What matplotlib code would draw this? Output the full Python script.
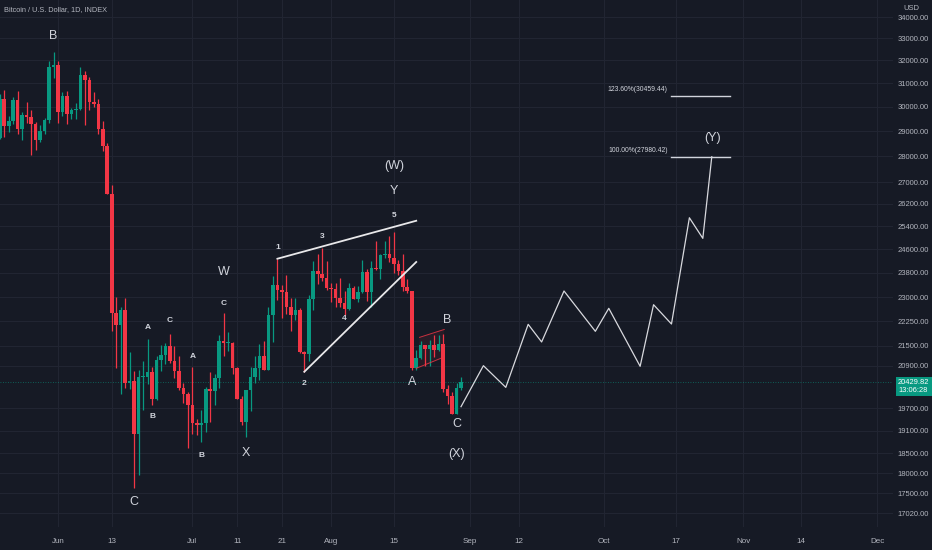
import numpy as np
import pandas as pd
import matplotlib
matplotlib.use('Agg')
import matplotlib.pyplot as plt
import matplotlib.dates as mdates
from matplotlib.ticker import FixedLocator, NullLocator, FuncFormatter
import matplotlib.transforms as mtransforms

plt.rcParams['font.family'] = ['Liberation Sans', 'DejaVu Sans']

# daily candles, BTC index, 2022-05-19 .. 2022-08-30
dates = pd.date_range('2022-05-19', '2022-08-30', freq='D')
open_ = [28710, 30310, 29200, 29430, 30300, 29100, 29650, 29560, 29270, 28630, 29020, 29450, 31720,
         31790, 29800, 30460, 29700, 29860, 29910, 31370, 31130, 30200, 30110, 29090, 28420, 26570, 22490,
         22140, 22580, 20400, 20470, 19000, 20570, 20570, 20720, 19970, 21080, 21230, 21500, 21040, 20740,
         20280, 20100,
         19780, 19300, 19240, 19300, 20230, 20190, 20550, 21630, 21590, 21590, 20850, 19960, 19320, 20220,
         20580, 20830, 21190, 20780, 22430, 23390, 23230, 23160, 22680, 22450, 22580, 21310, 21250, 22950,
         23850, 23770, 23640,
         23300, 23270, 22980, 22820, 22620, 23310, 22960, 23180, 23810, 23160, 23950, 23940, 24400, 24440,
         24300, 24100, 23850, 23340, 23190, 20830, 21140, 21520, 21400, 21530, 21370, 21560, 20240, 20040,
         19550, 20280]
high = [30540, 30720, 29600, 30430, 30650, 29800, 30200, 29850, 29380, 29240, 29540, 31990, 32380,
        31960, 30620, 30660, 29940, 30140, 31730, 31530, 31290, 30630, 30330, 29420, 28540, 26880, 23000,
        22700, 22980, 21300, 20760, 20790, 21050, 21700, 20860, 21190, 21520, 21580, 21860, 21480, 21190,
        20400, 20150,
        20870, 19400, 19650, 20300, 20730, 20660, 21830, 22500, 21920, 21600, 20860, 20040, 20220, 20860,
        21180, 21560, 21650, 22680, 23700, 24270, 23410, 23740, 22990, 22990, 22650, 21350, 23070, 24180,
        24440, 24650, 24180,
        23460, 23450, 23640, 23200, 23450, 23350, 23380, 24220, 23920, 24210, 24880, 24440, 24880, 25050,
        25200, 24230, 24430, 23580, 23200, 21370, 21650, 21530, 21660, 21810, 21810, 21860, 20340, 20140,
        20400, 20570]
low = [28690, 28760, 28950, 29270, 28900, 28650, 29330, 28050, 28260, 28550, 28880, 29320, 31230,
       29330, 29600, 29300, 29500, 29500, 29880, 29230, 29880, 29980, 28900, 28200, 26560, 21950, 20850,
       20110, 20260, 20240, 17620, 17960, 19650, 20370, 19790, 19920, 20750, 20960, 20990, 20550, 20200,
       19850, 18630,
       19000, 18980, 18790, 19070, 19320, 19790, 20260, 21200, 21350, 20670, 19950, 19240, 18930, 19640,
       20420, 20490, 20780, 20770, 21600, 22920, 22360, 22460, 21950, 22290, 21270, 20730, 21050, 22600,
       23430, 23520, 23240,
       22860, 22700, 22700, 22430, 22590, 22950, 22860, 23150, 22880, 22700, 23900, 23610, 24310, 24160,
       23800, 23720, 23190, 23140, 20790, 20790, 21110, 20900, 20900, 21150, 21330, 20140, 19830, 19550,
       19550, 20200]
close = [30310, 29200, 29430, 30300, 29100, 29650, 29560, 29270, 28630, 29020, 29450, 31720, 31790,
         29800, 30460, 29700, 29860, 29910, 31370, 31130, 30200, 30110, 29090, 28420, 26570, 22490, 22140,
         22580, 20400, 20470, 19000, 20570, 20570, 20720, 19970, 21080, 21230, 21500, 21040, 20740, 20280,
         20100, 19780,
         19300, 19240, 19300, 20230, 20190, 20550, 21630, 21590, 21590, 20850, 19960, 19320, 20220, 20580,
         20830, 21190, 20780, 22430, 23390, 23230, 23160, 22680, 22450, 22580, 21310, 21250, 22950, 23850,
         23770, 23640, 23300,
         23270, 22980, 22820, 22620, 23310, 22960, 23180, 23810, 23160, 23950, 23940, 24400, 24440, 24300,
         24100, 23850, 23340, 23190, 20830, 21140, 21520, 21400, 21530, 21370, 21560, 20240, 20040, 19550,
         20280, 20429.82]

last_price = 20429.82
countdown = '13:06:28'

price_ticks = [34000, 33000, 32000, 31000, 30000, 29000, 28000, 27000, 26200, 25400, 24600, 23800,
               23000, 22250, 21500, 20900, 19700, 19100, 18500, 18000, 17500, 17020]
date_ticks = ['2022-06-01', '2022-06-13', '2022-07-01', '2022-07-11', '2022-07-21', '2022-08-01',
              '2022-08-15', '2022-09-01', '2022-09-12', '2022-10-01', '2022-10-17', '2022-11-01',
              '2022-11-14', '2022-12-01']
date_labels = ['Jun', '13', 'Jul', '11', '21', 'Aug', '15', 'Sep', '12', 'Oct', '17', 'Nov', '14', 'Dec']

# wedge (ending diagonal)
wedge_top_dates = ['2022-07-20', '2022-08-20']
wedge_top_prices = [24270, 25590]
wedge_bot_dates = ['2022-07-26', '2022-08-20']
wedge_bot_prices = [20730, 24160]

# small flag after A
flag_dates = ['2022-08-20 18:00', '2022-08-26 06:00', '2022-08-26 00:00', '2022-08-20 00:00']
flag_prices = [21750, 21990, 21150, 20830]

# projected path to (Y)
path_dates = ['2022-08-30', '2022-09-04', '2022-09-09', '2022-09-14', '2022-09-17', '2022-09-22',
              '2022-09-29', '2022-10-02', '2022-10-09', '2022-10-12', '2022-10-16', '2022-10-20',
              '2022-10-23', '2022-10-25']
path_prices = [19745, 20907, 20284, 22148, 21610, 23202, 21934, 22648, 20889, 22763, 22158, 25697,
               24970, 27980]

# fib extension levels
fib_dates = ['2022-10-16', '2022-10-29']
fib_levels = [30459.44, 27980.42]
fib_pcts = ['123.60%', '100.00%']

# wave labels
big_text = ['B', 'C', 'W', 'X', 'Y', '(W)', 'A', 'B', 'C', '(X)', '(Y)']
big_dates = ['2022-05-31', '2022-06-18', '2022-07-08', '2022-07-13', '2022-08-15', '2022-08-15',
             '2022-08-19 03:00', '2022-08-27', '2022-08-29', '2022-08-29', '2022-10-25 05:00']
big_prices = [33125, 17279, 23834, 18503, 26686, 27632, 20444, 22281, 19264, 18476, 28733]
small_text = ['A', 'C', 'B', 'A', 'B', 'C', '1', '2', '3', '4', '5']
small_dates = ['2022-06-21', '2022-06-26', '2022-06-22', '2022-07-01', '2022-07-03', '2022-07-08',
               '2022-07-20', '2022-07-26', '2022-07-30', '2022-08-04', '2022-08-15']
small_prices = [22047, 22274, 19483, 21171, 18458, 22808, 24647, 20407, 25041, 22321, 25782]

bg = '#161a25'
up_col = '#089981'
dn_col = '#f23645'
txt_col = '#b2b5be'
lab_col = '#d1d4dc'
grid_col = '#222633'

fig = plt.figure(figsize=(9.32, 5.5), dpi=100, facecolor=bg)
ax = fig.add_axes([0, 23 / 550, 893 / 932, 527 / 550])
ax.set_facecolor(bg)
ax.set_yscale('log')

x = mdates.date2num(dates)
o = np.array(open_, float)
h = np.array(high, float)
l = np.array(low, float)
c = np.array(close, float)
cols = np.where(c >= o, up_col, dn_col)
ax.vlines(x, l, h, colors=cols, lw=0.9, zorder=3)
body_lo = np.minimum(o, c)
body_h = np.maximum(np.abs(c - o), 25)
ax.bar(x, body_h, bottom=body_lo, width=0.8, color=cols, lw=0, zorder=4)

# current price line
ax.axhline(last_price, color=up_col, lw=0.6, ls=(0, (1, 2)), alpha=0.7, zorder=2)

# drawings
ax.plot(mdates.date2num(pd.to_datetime(wedge_top_dates)), wedge_top_prices, color='#e8e8ea', lw=1.3, zorder=5)
ax.plot(mdates.date2num(pd.to_datetime(wedge_bot_dates)), wedge_bot_prices, color='#e8e8ea', lw=1.3, zorder=5)
fx = mdates.date2num(pd.to_datetime(flag_dates))
ax.fill(fx, flag_prices, facecolor=dn_col, alpha=0.08, edgecolor='none', zorder=2)
ax.plot([fx[0], fx[1]], [flag_prices[0], flag_prices[1]], color=dn_col, lw=0.7, alpha=0.8, zorder=5)
ax.plot([fx[3], fx[2]], [flag_prices[3], flag_prices[2]], color=dn_col, lw=0.7, alpha=0.8, zorder=5)
ax.plot(mdates.date2num(pd.to_datetime(path_dates)), path_prices, color='#d8d9de', lw=0.9, zorder=5)

fd = mdates.date2num(pd.to_datetime(fib_dates))
for lev, pct in zip(fib_levels, fib_pcts):
    ax.plot(fd, [lev, lev], color='#d1d4dc', lw=1.0, zorder=5)
    ax.annotate('%s(%.2f)' % (pct, lev), xy=(fd[0], lev), xytext=(-4, 6), textcoords='offset pixels',
                ha='right', va='center', color=lab_col, fontsize=4.9)

for t, d, p in zip(big_text, big_dates, big_prices):
    ax.text(mdates.date2num(pd.Timestamp(d)), p, t, ha='center', va='center', color=lab_col,
            fontsize=9, zorder=6)
for t, d, p in zip(small_text, small_dates, small_prices):
    ax.text(mdates.date2num(pd.Timestamp(d)), p, t, ha='center', va='center', color=lab_col,
            fontsize=6, fontweight='bold', zorder=6)

# axes
base = mdates.date2num(pd.Timestamp('2022-06-01'))
ax.set_xlim(base - 12.95, base + 186.47)
ax.set_ylim(16695, 34816)

ax.yaxis.tick_right()
ax.yaxis.set_major_locator(FixedLocator(price_ticks))
ax.yaxis.set_minor_locator(NullLocator())
ax.yaxis.set_major_formatter(FuncFormatter(lambda v, _: '%.2f' % v))
ax.set_xticks(mdates.date2num(pd.to_datetime(date_ticks)))
ax.set_xticklabels(date_labels)
ax.tick_params(axis='both', length=0, colors=txt_col)
ax.tick_params(axis='y', pad=3, labelsize=5.5)
ax.tick_params(axis='x', pad=8, labelsize=5.8)
ax.grid(True, color=grid_col, lw=0.7)
ax.set_axisbelow(True)
for s in ax.spines.values():
    s.set_visible(False)

trans = mtransforms.blended_transform_factory(ax.transAxes, ax.transData)
ax.annotate('%.2f\n%s' % (last_price, countdown), xy=(1, last_price), xycoords=trans,
            xytext=(5, -4), textcoords='offset pixels', ha='left', va='center',
            color='white', fontsize=5.4, linespacing=1.15, annotation_clip=False,
            bbox=dict(boxstyle='square,pad=0.3', fc=up_col, ec='none'))

fig.text(4 / 932, 1 - 10 / 550, 'Bitcoin / U.S. Dollar, 1D, INDEX', color=txt_col, fontsize=5.3,
         ha='left', va='center')
fig.text(903 / 932, 1 - 8 / 550, 'USD', color=txt_col, fontsize=5.5, ha='left', va='center')

fig.savefig('out.png', dpi=100, facecolor=bg)
